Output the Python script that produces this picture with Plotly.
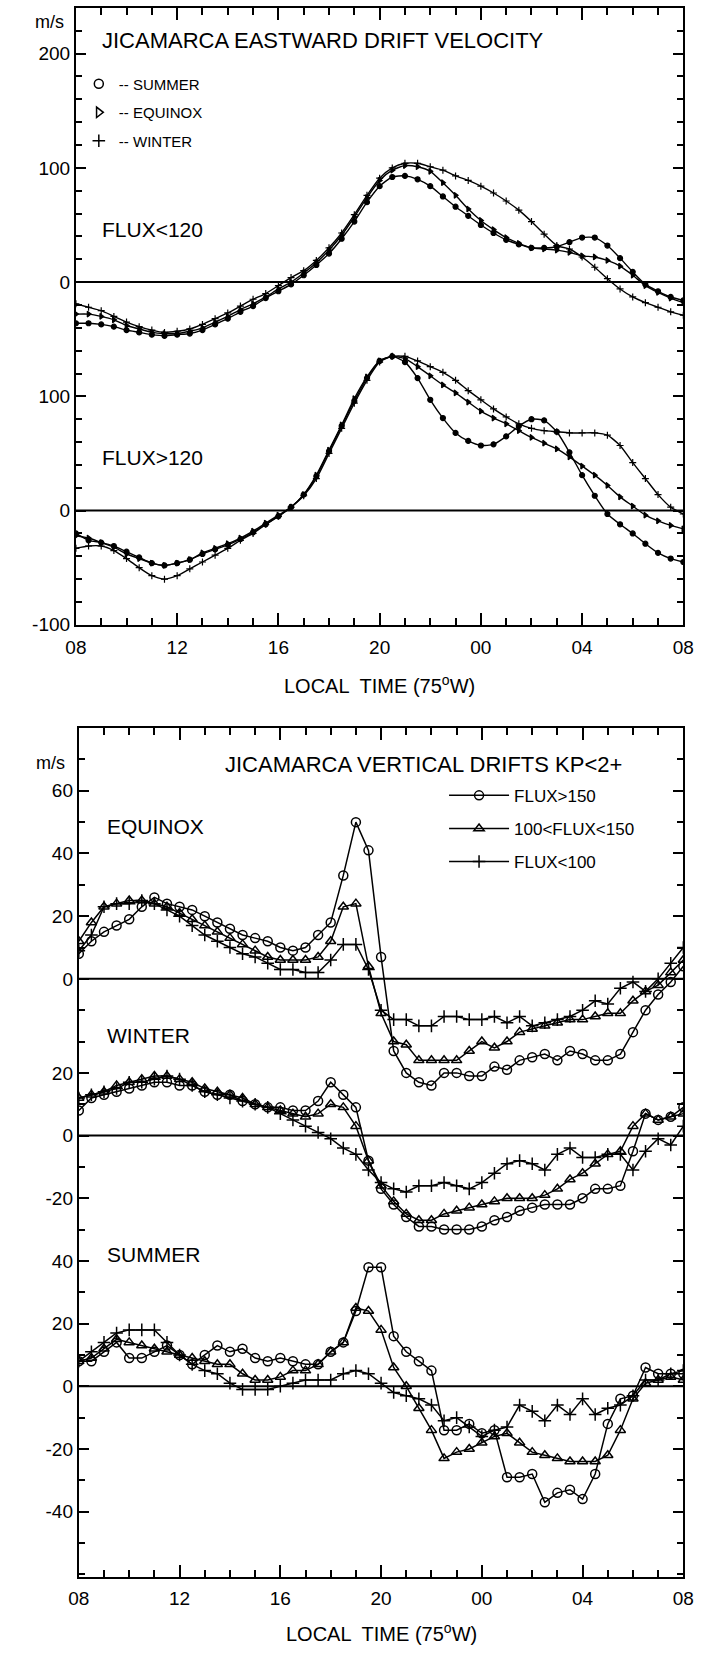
import plotly.graph_objects as go
import numpy as np

W, H = 705, 1658
FONT = "Liberation Sans, Arial, sans-serif"

# half-hourly local time grid, 08 LT to 08 LT next day
HOURS = [8 + 0.5 * i for i in range(49)]
X_TICKS = [8, 12, 16, 20, 24, 28, 32]
X_LABELS = ["08", "12", "16", "20", "00", "04", "08"]

# ---------------- top panel: eastward drift (m/s) ----------------
TOP_OFFSET = 200  # FLUX<120 curves are drawn 200 m/s higher
E_LOW_SUMMER = [-36, -36, -37, -39, -42, -44, -46, -47, -46, -45, -42, -37, -32, -26, -21, -14,
                -8, -2, 6, 15, 25, 38, 53, 70, 84, 92, 93, 90, 84, 75, 66, 58,
                50, 43, 37, 33, 30, 30, 31, 35, 39, 39, 32, 21, 9, -2, -8, -13, -16]
E_LOW_EQUINOX = [-28, -28, -30, -33, -38, -41, -44, -45, -45, -43, -40, -35, -30, -24, -19, -13,
                 -6, 0, 8, 17, 28, 41, 57, 74, 89, 98, 102, 101, 97, 87, 76, 64,
                 54, 46, 39, 34, 30, 29, 28, 26, 23, 22, 19, 14, 6, -3, -9, -14, -18]
E_LOW_WINTER = [-19, -22, -25, -30, -35, -39, -42, -44, -43, -41, -37, -32, -27, -21, -15, -10,
                -3, 4, 10, 19, 30, 43, 59, 76, 91, 100, 104, 104, 101, 98, 93, 89,
                84, 78, 71, 63, 53, 42, 32, 29, 22, 13, 3, -6, -13, -18, -22, -26, -29]
E_HIGH_SUMMER = [-20, -26, -28, -31, -36, -41, -46, -48, -46, -43, -38, -34, -30, -25, -19, -12,
                 -5, 3, 14, 30, 52, 74, 96, 116, 131, 135, 130, 116, 97, 81, 68, 61,
                 57, 58, 65, 74, 80, 79, 69, 51, 31, 13, -3, -12, -20, -29, -37, -42, -45]
E_HIGH_EQUINOX = [-22, -24, -28, -32, -38, -42, -46, -48, -46, -43, -37, -33, -29, -24, -18, -11,
                  -4, 3, 14, 31, 53, 75, 98, 117, 131, 135, 133, 126, 118, 110, 103, 95,
                  87, 81, 76, 70, 64, 59, 54, 47, 39, 31, 22, 12, 4, -4, -9, -13, -16]
E_HIGH_WINTER = [-33, -31, -31, -35, -42, -50, -57, -60, -57, -51, -45, -39, -33, -26, -20, -12,
                 -5, 3, 13, 28, 50, 72, 94, 114, 130, 135, 135, 131, 126, 121, 114, 105,
                 97, 89, 82, 76, 72, 70, 69, 68, 68, 68, 66, 57, 42, 28, 14, 3, -3]
TOP_Y_TICKS = [-100, 0, 100, 200, 300, 400]
TOP_Y_LABELS = ["-100", "0", "100", "0", "100", "200"]

# ---------------- bottom panel: vertical drift (m/s) ----------------
EQUINOX_OFFSET = 130
WINTER_OFFSET = 80
SUMMER_OFFSET = 0
V_EQ_HIGH = [8, 12, 15, 17, 19, 23, 26, 24, 23, 22, 20, 18, 16, 14, 13, 12,
             10, 9, 10, 14, 18, 33, 50, 41, 7, -23, -30, -33, -34, -30, -30, -31,
             -31, -28, -29, -26, -25, -24, -26, -23, -24, -26, -26, -24, -17, -10, -5, -1, 4]
V_EQ_MID = [12, 18, 23, 24, 25, 25, 24, 23, 21, 19, 17, 15, 13, 11, 9, 7,
            6, 6, 6, 7, 12, 23, 24, 4, -11, -20, -21, -26, -26, -26, -26, -23,
            -20, -22, -20, -17, -16, -15, -14, -13, -13, -12, -11, -11, -7, -4, -2, 2, 6]
V_EQ_LOW = [9, 14, 23, 24, 24, 25, 24, 22, 20, 17, 14, 12, 10, 8, 7, 5,
            3, 3, 2, 2, 6, 11, 11, 3, -10, -13, -13, -15, -15, -12, -12, -13,
            -13, -12, -14, -12, -15, -14, -13, -12, -10, -7, -8, -3, -1, -4, 0, 5, 10]
V_WI_HIGH = [8, 12, 13, 14, 15, 16, 17, 17, 16, 16, 14, 13, 13, 11, 10, 9,
             9, 8, 8, 11, 17, 13, 9, -8, -17, -22, -26, -29, -29, -30, -30, -30,
             -29, -27, -26, -24, -23, -22, -22, -22, -20, -17, -17, -16, -5, 7, 5, 6, 9]
V_WI_MID = [12, 13, 14, 16, 17, 18, 19, 19, 18, 17, 15, 14, 13, 12, 10, 9,
            8, 7, 6, 7, 10, 9, 3, -8, -16, -21, -25, -27, -27, -25, -24, -23,
            -22, -21, -20, -20, -20, -19, -17, -14, -12, -9, -6, -5, 3, 7, 5, 6, 7]
V_WI_LOW = [12, 13, 14, 15, 17, 17, 18, 19, 18, 16, 14, 13, 12, 11, 10, 9,
            7, 5, 3, 1, -1, -4, -6, -11, -15, -17, -18, -16, -16, -15, -16, -17,
            -15, -12, -9, -8, -9, -11, -6, -4, -7, -7, -6, -6, -11, -5, -1, -3, 3]
V_SU_HIGH = [8, 8, 11, 14, 9, 9, 11, 13, 10, 7, 10, 13, 11, 12, 9, 8,
             9, 8, 7, 7, 11, 14, 24, 38, 38, 16, 11, 8, 5, -14, -14, -12,
             -15, -14, -29, -29, -28, -37, -34, -33, -36, -28, -12, -4, -3, 6, 4, 4, 4]
V_SU_MID = [8, 9, 12, 15, 14, 13, 12, 11, 10, 9, 8, 7, 7, 4, 2, 2,
            3, 5, 5, 7, 11, 14, 25, 24, 18, 6, 0, -7, -14, -23, -21, -20,
            -18, -16, -15, -18, -21, -22, -23, -24, -24, -24, -22, -14, -4, 1, 2, 3, 2]
V_SU_LOW = [8, 11, 14, 17, 18, 18, 18, 14, 10, 7, 5, 4, 1, -1, -1, -1,
            0, 1, 2, 2, 2, 4, 5, 4, 1, -2, -3, -4, -6, -11, -10, -13,
            -16, -14, -13, -6, -8, -11, -6, -9, -4, -9, -7, -6, -3, 2, 2, 4, 5]
BOT_Y_TICKS = [-40, -20, 0, 20, 40, 60, 80, 100, 130, 150, 170, 190]
BOT_Y_LABELS = ["-40", "-20", "0", "20", "40", "-20", "0", "20", "0", "20", "40", "60"]


def px(x):
    return x / W


def py(y):
    return 1 - y / H


fig = go.Figure()

# top panel curves
top_sets = [
    (E_LOW_SUMMER, TOP_OFFSET, "circle"), (E_LOW_EQUINOX, TOP_OFFSET, "triangle-right"),
    (E_LOW_WINTER, TOP_OFFSET, "cross-thin-open"),
    (E_HIGH_SUMMER, 0, "circle"), (E_HIGH_EQUINOX, 0, "triangle-right"),
    (E_HIGH_WINTER, 0, "cross-thin-open"),
]
for vals, off, sym in top_sets:
    fig.add_trace(go.Scatter(
        x=HOURS, y=np.array(vals) + off, xaxis="x", yaxis="y", mode="lines+markers",
        line=dict(color="black", width=1.4, shape="spline", smoothing=0.6),
        marker=dict(symbol=sym, size=5, color="black", line=dict(color="black", width=1.2)),
        showlegend=False, hoverinfo="skip"))

# top legend keys (symbol only, no data)
for name, sym in [("-- SUMMER", "circle-open"), ("-- EQUINOX", "triangle-right-open"),
                  ("-- WINTER", "cross-thin-open")]:
    fig.add_trace(go.Scatter(
        x=[None], y=[None], xaxis="x", yaxis="y", mode="markers", name=name,
        marker=dict(symbol=sym, size=9, color="black", line=dict(color="black", width=1.5)),
        legend="legend", legendgroup=name, showlegend=True))

# bottom panel curves
bottom_sets = [
    (V_EQ_HIGH, EQUINOX_OFFSET, "circle-open", "FLUX&gt;150", True),
    (V_EQ_MID, EQUINOX_OFFSET, "triangle-up-open", "100&lt;FLUX&lt;150", True),
    (V_EQ_LOW, EQUINOX_OFFSET, "cross-thin-open", "FLUX&lt;100", True),
    (V_WI_HIGH, WINTER_OFFSET, "circle-open", "wi150", False),
    (V_WI_MID, WINTER_OFFSET, "triangle-up-open", "wi100", False),
    (V_WI_LOW, WINTER_OFFSET, "cross-thin-open", "wi0", False),
    (V_SU_HIGH, SUMMER_OFFSET, "circle-open", "su150", False),
    (V_SU_MID, SUMMER_OFFSET, "triangle-up-open", "su100", False),
    (V_SU_LOW, SUMMER_OFFSET, "cross-thin-open", "su0", False),
]
for vals, off, sym, name, leg in bottom_sets:
    fig.add_trace(go.Scatter(
        x=HOURS, y=np.array(vals) + off, xaxis="x2", yaxis="y2", mode="lines+markers",
        line=dict(color="black", width=1.5),
        marker=dict(symbol=sym, size=9, color="black", line=dict(color="black", width=1.5)),
        name=name, showlegend=leg, legend="legend2", legendgroup=name, hoverinfo="skip"))

axis_common = dict(showline=True, linewidth=2, linecolor="black", mirror="ticks",
                   ticks="inside", tickcolor="black", tickwidth=1.5, showgrid=False,
                   zeroline=False, tickfont=dict(family=FONT, size=19, color="black"))

fig.update_layout(
    width=W, height=H, autosize=False,
    margin=dict(l=0, r=0, t=0, b=0),
    paper_bgcolor="white", plot_bgcolor="white",
    font=dict(family=FONT, color="black"),
    xaxis=dict(domain=[px(67), px(694)], range=[8, 32], anchor="y",
               tickmode="array", tickvals=X_TICKS, ticktext=X_LABELS, ticklen=12,
               ticklabelstandoff=4,
               minor=dict(tickmode="linear", tick0=8, dtick=1, ticklen=7, ticks="inside",
                          tickcolor="black", tickwidth=1.5),
               **axis_common),
    yaxis=dict(domain=[py(629), py(8)], range=[-100, 440], anchor="x",
               tickmode="array", tickvals=TOP_Y_TICKS, ticktext=TOP_Y_LABELS, ticklen=10,
               minor=dict(tickmode="linear", tick0=0, dtick=20, ticklen=6, ticks="inside",
                          tickcolor="black", tickwidth=1.5),
               **axis_common),
    xaxis2=dict(domain=[px(70), px(694)], range=[8, 32], anchor="y2",
                tickmode="array", tickvals=X_TICKS, ticktext=X_LABELS, ticklen=12,
                ticklabelstandoff=3,
                minor=dict(tickmode="linear", tick0=8, dtick=1, ticklen=7, ticks="inside",
                           tickcolor="black", tickwidth=1.5),
                **axis_common),
    yaxis2=dict(domain=[py(1588), py(733)], range=[-61, 210], anchor="x2",
                tickmode="array", tickvals=BOT_Y_TICKS, ticktext=BOT_Y_LABELS, ticklen=10,
                minor=dict(tickmode="linear", tick0=0, dtick=10, ticklen=6, ticks="inside",
                           tickcolor="black", tickwidth=1.5),
                **axis_common),
    legend=dict(x=px(70), y=py(68), xanchor="left", yanchor="top",
                bgcolor="rgba(0,0,0,0)", font=dict(family=FONT, size=15, color="black"),
                itemwidth=30, tracegroupgap=6, itemclick=False),
    legend2=dict(x=px(447), y=py(783), xanchor="left", yanchor="top",
                 bgcolor="rgba(0,0,0,0)", font=dict(family=FONT, size=17, color="black"),
                 itemwidth=60, tracegroupgap=8, itemclick=False),
)

# zero reference lines
shapes = []
for yref, yv in [("y", 0), ("y", TOP_OFFSET), ("y2", SUMMER_OFFSET), ("y2", WINTER_OFFSET),
                 ("y2", EQUINOX_OFFSET)]:
    xr = "x domain" if yref == "y" else "x2 domain"
    shapes.append(dict(type="line", xref=xr, x0=0, x1=1, yref=yref, y0=yv, y1=yv,
                       line=dict(color="black", width=2), layer="below"))
fig.update_layout(shapes=shapes)


def txt(text, x, y, size, anchor="left"):
    fig.add_annotation(text=text, x=px(x), y=py(y), xref="paper", yref="paper",
                       xanchor=anchor, yanchor="middle", showarrow=False,
                       font=dict(family=FONT, size=size, color="black"))


txt("m/s", 40, 22, 18, "center")
txt("JICAMARCA EASTWARD DRIFT VELOCITY", 92, 41, 22)
txt("FLUX&lt;120", 92, 231, 21)
txt("FLUX&gt;120", 92, 461, 21)
txt("LOCAL  TIME (75<sup>o</sup>W)", 380, 689, 20, "center")

txt("m/s", 41, 768, 18, "center")
txt("JICAMARCA VERTICAL DRIFTS KP&lt;2+", 219, 770, 22)
txt("EQUINOX", 97, 832, 21)
txt("WINTER", 97, 1042, 21)
txt("SUMMER", 97, 1263, 21)
txt("LOCAL  TIME (75<sup>o</sup>W)", 382, 1643, 20, "center")

fig.write_html("out.html")
